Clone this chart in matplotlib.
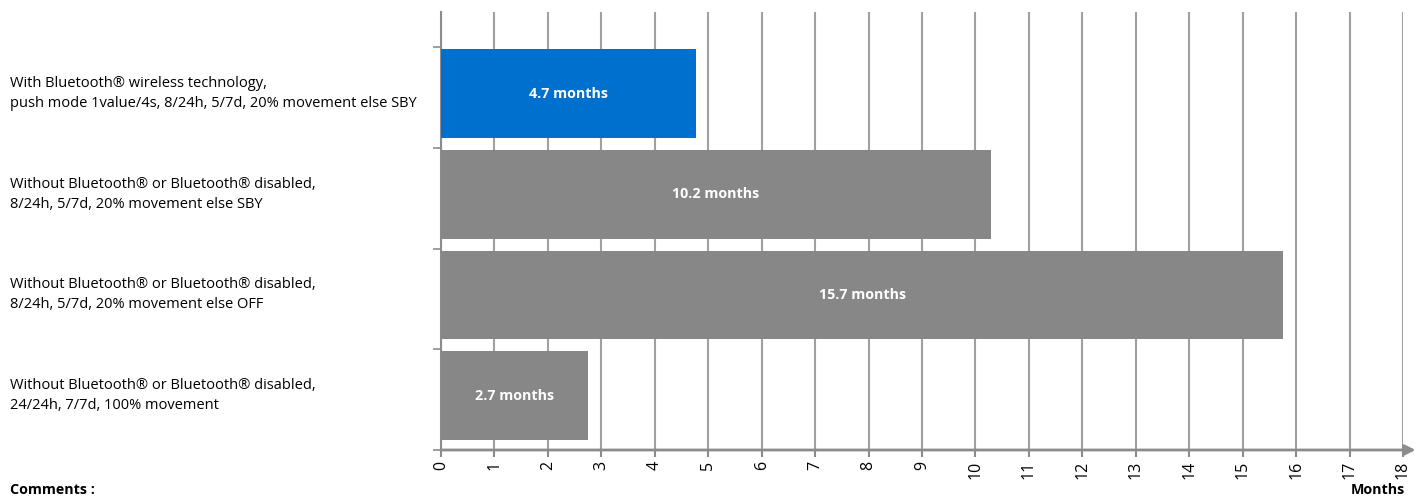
import matplotlib
matplotlib.use("Agg")
import matplotlib.pyplot as plt

categories = [
    "With Bluetooth\u00ae wireless technology,\npush mode 1value/4s, 8/24h, 5/7d, 20% movement else SBY",
    "Without Bluetooth\u00ae or Bluetooth\u00ae disabled,\n8/24h, 5/7d, 20% movement else SBY",
    "Without Bluetooth\u00ae or Bluetooth\u00ae disabled,\n8/24h, 5/7d, 20% movement else OFF",
    "Without Bluetooth\u00ae or Bluetooth\u00ae disabled,\n24/24h, 7/7d, 100% movement",
]
values = [4.77, 10.29, 15.76, 2.75]
bar_labels = ["4.7 months", "10.2 months", "15.7 months", "2.7 months"]
bar_colors = ["#0070CE", "#878787", "#878787", "#878787"]
xticks = list(range(0, 19))

plt.rcParams['font.family'] = ['Open Sans', 'DejaVu Sans']
W, H = 1424, 498
fig = plt.figure(figsize=(W / 100, H / 100), dpi=100)
ax_l, ax_r, ax_t, ax_b = 441, 1403, 12, 450
ax = fig.add_axes([ax_l / W, (H - ax_b) / H, (ax_r - ax_l) / W, (ax_b - ax_t) / H])

grid_c = "#A0A0A0"
axis_c = "#8C8C8C"
ypos = [i - 0.04 for i in range(len(values))]
ax.barh(ypos, values, height=0.88, color=bar_colors, zorder=3)
for y, v, lab in zip(ypos, values, bar_labels):
    ax.text(v / 2, y, lab, ha='center', va='center', color='white',
            fontsize=10.3, fontweight='bold', zorder=4)

ax.set_xlim(0, 18)
ax.set_ylim(3.5, -0.85)
ax.set_xticks(xticks)
ax.set_xticklabels([str(t) for t in xticks], rotation=90, fontsize=11.5)
ax.set_yticks([i - 0.5 for i in range(len(values) + 1)])
ax.set_yticklabels([])
ax.tick_params(axis='x', length=5, width=1.5, color=axis_c, pad=3)
ax.tick_params(axis='y', length=6, width=1.2, color=axis_c)
ax.grid(axis='x', color=grid_c, linewidth=1.5, zorder=0)
for s in ['top', 'right', 'bottom']:
    ax.spines[s].set_visible(False)
ax.spines['left'].set_color(axis_c)
ax.spines['left'].set_linewidth(1.5)
ax.annotate('', xy=(1.013, 0), xytext=(0, 0), xycoords='axes fraction',
            arrowprops=dict(arrowstyle='-|>', color=axis_c, lw=2, mutation_scale=16,
                            shrinkA=0, shrinkB=0), annotation_clip=False)

for y, cat in zip(ypos, categories):
    fig.text(10 / W, 1 - (ax_t + (y + 0.85) / 4.35 * (ax_b - ax_t)) / H, cat,
             ha='left', va='center', fontsize=10.5, linespacing=1.45)

fig.text(1378 / W, 1 - 490 / H, "Months", ha='center', va='center',
         fontsize=10.3, fontweight='bold')
fig.text(10 / W, 1 - 490 / H, "Comments :", ha='left', va='center',
         fontsize=10.3, fontweight='bold')

fig.savefig("out.png", dpi=100)
